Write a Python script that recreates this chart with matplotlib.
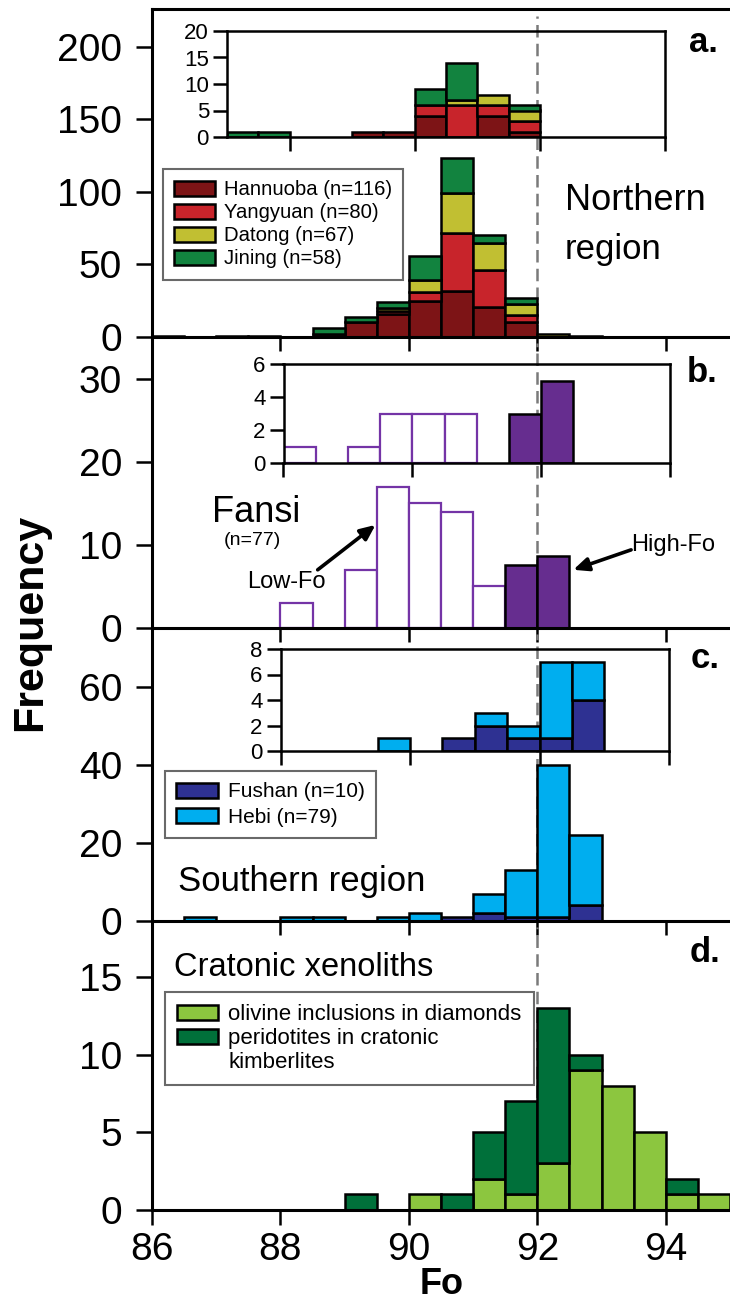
"""Fo histograms of olivine, four stacked panels with insets."""

import numpy as np
import matplotlib
matplotlib.use("Agg")
import matplotlib.pyplot as plt
from matplotlib.patches import Patch

W, H = 730, 1306
SANS = ["Liberation Sans", "DejaVu Sans"]

# left edges of the 0.5-Fo bins
BIN_LEFT = [86.0, 86.5, 87.0, 87.5, 88.0, 88.5, 89.0, 89.5, 90.0,
            90.5, 91.0, 91.5, 92.0, 92.5, 93.0, 93.5, 94.0, 94.5]

# a. Northern region (main)
HANNUOBA = [0, 0, 0, 0, 0, 2, 10, 16, 25, 32, 21, 10, 0, 0, 0, 0, 0, 0]
YANGYUAN = [0, 0, 0, 0, 0, 0, 0, 2, 6, 40, 25, 5, 0, 0, 0, 0, 0, 0]
DATONG = [0, 0, 0, 0, 0, 0, 0, 2, 8, 27, 19, 8, 2, 0, 0, 0, 0, 0]
JINING = [1, 0, 1, 1, 0, 4, 4, 4, 17, 24, 5, 4, 0, 1, 0, 0, 0, 0]
# a. inset
IN_HANNUOBA = [0, 0, 0, 0, 0, 0, 1, 1, 4, 0, 4, 1, 0, 0, 0, 0, 0, 0]
IN_YANGYUAN = [0, 0, 0, 0, 0, 0, 0, 0, 2, 6, 2, 2, 0, 0, 0, 0, 0, 0]
IN_DATONG = [0, 0, 0, 0, 0, 0, 0, 0, 0, 1, 2, 2, 0, 0, 0, 0, 0, 0]
IN_JINING = [0, 0, 1, 1, 0, 0, 0, 0, 3, 7, 0, 1, 0, 0, 0, 0, 0, 0]

# b. Fansi
FANSI_LOW = [0, 0, 0, 0, 3, 0, 7, 17, 15, 14, 5, 0, 0, 0, 0, 0, 0, 0]
FANSI_HIGH = [0, 0, 0, 0, 0, 0, 0, 0, 0, 0, 0, 7.6, 8.6, 0, 0, 0, 0, 0]
IN_FANSI_LOW = [0, 0, 0, 0, 1, 0, 1, 3, 3, 3, 0, 0, 0, 0, 0, 0, 0, 0]
IN_FANSI_HIGH = [0, 0, 0, 0, 0, 0, 0, 0, 0, 0, 0, 3, 5, 0, 0, 0, 0, 0]

# c. Southern region
FUSHAN = [0, 0, 0, 0, 0, 0, 0, 0, 0, 1, 2, 1, 1, 4, 0, 0, 0, 0]
HEBI = [0, 1, 0, 0, 1, 1, 0, 1, 2, 0, 5, 12, 39, 18, 0, 0, 0, 0]
IN_FUSHAN = [0, 0, 0, 0, 0, 0, 0, 0, 0, 1, 2, 1, 1, 4, 0, 0, 0, 0]
IN_HEBI = [0, 0, 0, 0, 0, 0, 0, 1, 0, 0, 1, 1, 6, 3, 0, 0, 0, 0]

# d. Cratonic xenoliths
OLIVINE_DIAMOND = [0, 0, 0, 0, 0, 0, 0, 0, 1, 0, 2, 1, 3, 9, 8, 5, 1, 1]
PERIDOTITE = [0, 0, 0, 0, 0, 0, 1, 0, 0, 1, 3, 6, 10, 1, 0, 0, 1, 0]

C_HANNUOBA, C_YANGYUAN, C_DATONG, C_JINING = "#7d1416", "#c8242b", "#c1bf32", "#12833f"
C_PURPLE, C_PURPLE_EDGE = "#662d8f", "#7434a6"
C_FUSHAN, C_HEBI = "#2e3192", "#00aeef"
C_OLIVINE, C_PERIDOTITE = "#8cc63f", "#00703a"


def box(x0, y0, x1, y1):
    return [x0 / W, 1 - y1 / H, (x1 - x0) / W, (y1 - y0) / H]


def ftext(fig, x, y, s, **kw):
    fig.text(x / W, 1 - y / H, s, **kw)


def stacked(ax, layers, colors, lw=1.8):
    left = np.array(BIN_LEFT)
    bottom = np.zeros(len(left))
    for vals, c in zip(layers, colors):
        vals = np.asarray(vals, float)
        m = vals > 0
        ax.bar(left[m], vals[m], width=0.5, bottom=bottom[m], align="edge",
               color=c, edgecolor="black", linewidth=lw, zorder=2)
        bottom += vals


def open_and_filled(ax, low, high):
    left = np.array(BIN_LEFT)
    low = np.asarray(low, float)
    high = np.asarray(high, float)
    ax.bar(left[low > 0], low[low > 0], width=0.5, align="edge", facecolor="white",
           edgecolor=C_PURPLE_EDGE, linewidth=1.6, zorder=2)
    ax.bar(left[high > 0], high[high > 0], width=0.5, align="edge", facecolor=C_PURPLE,
           edgecolor="black", linewidth=1.8, zorder=2)


def style_main(ax, ylim, yticks, top=False, xlabels=False):
    ax.set_xlim(86, 95)
    ax.set_ylim(*ylim)
    ax.set_yticks(yticks)
    ax.set_xticks([86, 88, 90, 92, 94])
    ax.set_facecolor("none")
    ax.spines["right"].set_visible(False)
    ax.spines["top"].set_visible(top)
    for s in ax.spines.values():
        s.set_linewidth(2.2)
    ax.tick_params(axis="y", direction="out", length=11.5, width=1.8, pad=10, labelsize=28)
    ax.tick_params(axis="x", direction="out", length=10, width=1.8, pad=5,
                   labelsize=28, labelbottom=xlabels)
    for lab in ax.get_xticklabels() + ax.get_yticklabels():
        lab.set_family(SANS)
    ax.axvline(92, ymax=0.98, color="#7a7a7a", lw=1.8, ls=(0, (5, 2.5)), zorder=0.5)


def style_inset(ax, xlim, ylim, yticks):
    ax.set_xlim(*xlim)
    ax.set_ylim(*ylim)
    ax.set_xticks([88, 90, 92, 94])
    ax.set_xticklabels([])
    ax.set_yticks(yticks)
    ax.set_facecolor("none")
    for s in ax.spines.values():
        s.set_linewidth(1.8)
    ax.tick_params(direction="out", length=10, width=1.8, pad=3, labelsize=16)
    for lab in ax.get_yticklabels():
        lab.set_family(SANS)


def legend(ax, handles, labels, anchor, size=14.6, spacing=0.2, hl=2.0, hh=0.75):
    leg = ax.legend(handles, labels, loc="upper left", bbox_to_anchor=anchor,
                    borderaxespad=0, frameon=True, fancybox=False,
                    prop={"family": SANS, "size": size}, handlelength=hl,
                    handleheight=hh, handletextpad=0.45, labelspacing=spacing,
                    borderpad=0.55)
    leg.get_frame().set_edgecolor("#444444")
    leg.get_frame().set_linewidth(1.5)
    return leg


def patch(c):
    return Patch(facecolor=c, edgecolor="black", linewidth=1.8)


def main():
    fig = plt.figure(figsize=(W / 100, H / 100), dpi=100)

    # a. Northern region
    ax_a = fig.add_axes(box(152, 9, 730, 337))
    stacked(ax_a, [HANNUOBA, YANGYUAN, DATONG, JINING],
            [C_HANNUOBA, C_YANGYUAN, C_DATONG, C_JINING])
    style_main(ax_a, (0, 226), [0, 50, 100, 150, 200], top=True)
    legend(ax_a, [patch(c) for c in (C_HANNUOBA, C_YANGYUAN, C_DATONG, C_JINING)],
           ["Hannuoba (n=116)", "Yangyuan (n=80)", "Datong (n=67)", "Jining (n=58)"],
           (0.019, 0.512))
    in_a = fig.add_axes(box(227, 31, 665, 137))
    stacked(in_a, [IN_HANNUOBA, IN_YANGYUAN, IN_DATONG, IN_JINING],
            [C_HANNUOBA, C_YANGYUAN, C_DATONG, C_JINING])
    style_inset(in_a, (87, 94), (0, 20), [0, 5, 10, 15, 20])

    # b. Fansi
    ax_b = fig.add_axes(box(152, 337, 730, 628))
    open_and_filled(ax_b, FANSI_LOW, FANSI_HIGH)
    style_main(ax_b, (0, 35), [0, 10, 20, 30])
    arrow = dict(arrowstyle="-|>,head_length=0.9,head_width=0.4", lw=2.6, color="black",
                 shrinkA=0, shrinkB=0)
    ax_b.annotate("", xy=(89.48, 12.4), xytext=(88.58, 7.0), arrowprops=arrow)
    ax_b.annotate("", xy=(92.56, 7.0), xytext=(93.46, 9.4), arrowprops=arrow)
    ax_b.text(88.09, 5.5, "Low-Fo", ha="center", va="center", fontsize=17, family=SANS)
    ax_b.text(94.12, 10.0, "High-Fo", ha="center", va="center", fontsize=17, family=SANS)

    in_b = fig.add_axes(box(283.5, 364, 670, 463))
    open_and_filled(in_b, IN_FANSI_LOW, IN_FANSI_HIGH)
    style_inset(in_b, (88, 94), (0, 6), [0, 2, 4, 6])

    # c. Southern region
    ax_c = fig.add_axes(box(152, 628, 730, 921))
    stacked(ax_c, [FUSHAN, HEBI], [C_FUSHAN, C_HEBI])
    style_main(ax_c, (0, 75), [0, 20, 40, 60])
    legend(ax_c, [patch(C_FUSHAN), patch(C_HEBI)], ["Fushan (n=10)", "Hebi (n=79)"],
           (0.0225, 0.512), size=15, spacing=0.3)
    in_c = fig.add_axes(box(280.5, 649, 669, 751))
    stacked(in_c, [IN_FUSHAN, IN_HEBI], [C_FUSHAN, C_HEBI])
    style_inset(in_c, (88, 94), (0, 8), [0, 2, 4, 6, 8])

    # d. Cratonic xenoliths
    ax_d = fig.add_axes(box(152, 921, 730, 1210))
    stacked(ax_d, [OLIVINE_DIAMOND, PERIDOTITE], [C_OLIVINE, C_PERIDOTITE])
    style_main(ax_d, (0, 18.6), [0, 5, 10, 15], xlabels=True)
    ax_d.tick_params(axis="x", length=11)
    blank = Patch(visible=False)
    legend(ax_d, [patch(C_OLIVINE), patch(C_PERIDOTITE), blank],
           ["olivine inclusions in diamonds", "peridotites in cratonic", "kimberlites"],
           (0.0225, 0.754), size=16, spacing=0.12, hl=1.85, hh=0.68)

    # texts
    ftext(fig, 565, 200, "Northern", fontsize=26, family=SANS, va="center")
    ftext(fig, 565, 249, "region", fontsize=25, family=SANS, va="center")
    ftext(fig, 256, 512, "Fansi", fontsize=26, family=SANS, ha="center", va="center")
    ftext(fig, 252, 540, "(n=77)", fontsize=14, family=SANS, ha="center", va="center")
    ftext(fig, 178, 882, "Southern region", fontsize=25, family=SANS, va="center")
    ftext(fig, 174, 968, "Cratonic xenoliths", fontsize=23.5, family=SANS, va="center")
    for x, y, s in ((703, 43, "a."), (702, 372, "b."), (705, 658, "c."), (705, 952, "d.")):
        ftext(fig, x, y, s, fontsize=25, family=SANS, weight="bold", ha="center", va="center")
    ftext(fig, 30, 622, "Frequency", fontsize=31, family=SANS, weight="bold",
          rotation=90, ha="center", va="center")
    ftext(fig, 442, 1285, "Fo", fontsize=26, family=SANS, weight="bold", ha="center", va="center")

    fig.savefig("out.png", dpi=100)
    plt.close(fig)


if __name__ == "__main__":
    main()
